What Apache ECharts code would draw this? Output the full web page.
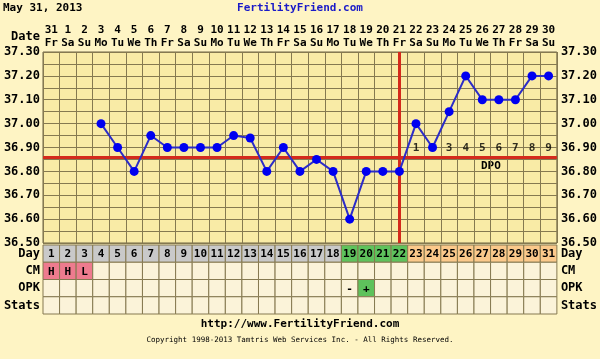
<!DOCTYPE html>
<html>
<head>
<meta charset="utf-8">
<script src="https://cdn.jsdelivr.net/npm/echarts@6/dist/echarts.min.js"></script>
<style>html,body{margin:0;padding:0;background:#fef4c4;}#c{width:600px;height:359px;}</style>
</head>
<body>
<div id="c"></div>
<script>
// ---- data ----
const dates = ['31','1','2','3','4','5','6','7','8','9','10','11','12','13','14','15','16','17','18','19','20','21','22','23','24','25','26','27','28','29','30'];
const weekdays = ['Fr','Sa','Su','Mo','Tu','We','Th','Fr','Sa','Su','Mo','Tu','We','Th','Fr','Sa','Su','Mo','Tu','We','Th','Fr','Sa','Su','Mo','Tu','We','Th','Fr','Sa','Su'];
const cycleDays = ['1','2','3','4','5','6','7','8','9','10','11','12','13','14','15','16','17','18','19','20','21','22','23','24','25','26','27','28','29','30','31'];
const temps = [null,null,null,37.00,36.90,36.80,36.95,36.90,36.90,36.90,36.90,36.95,36.94,36.80,36.90,36.80,36.85,36.80,36.60,36.80,36.80,36.80,37.00,36.90,37.05,37.20,37.10,37.10,37.10,37.20,37.20];
const cm = ['H','H','L','','','','','','','','','','','','','','','','','','','','','','','','','','','',''];
const opk = ['','','','','','','','','','','','','','','','','','','-','+','','','','','','','','','','',''];
const rows = ['Day','CM','OPK','Stats'];
const yTicks = ['36.50','36.60','36.70','36.80','36.90','37.00','37.10','37.20','37.30'];
const coverline = 36.86;
const ovulationDay = 22;
const dpo = ['1','2','3','4','5','6','7','8','9'];

// ---- styles ----
const FONT = 'DejaVu Sans Mono';
const gridC = '#857950';
const plotBg = '#f9eba6';
const cellBg = '#fbf3d9';
const red = '#d42a1c';

const fillFor = (r, i) => {
  const d = i + 1;
  if (r === 0) {
    if (d > ovulationDay) return '#fbc98b';
    if (d >= ovulationDay - 3) return '#5ec25c';
    return '#c9c9c9';
  }
  if (r === 1) return cm[i] ? '#ee7b8e' : cellBg;
  if (r === 2) return opk[i] === '+' ? '#5ec25c' : cellBg;
  return cellBg;
};
const textFor = (r, i) => r === 0 ? cycleDays[i] : r === 1 ? cm[i] : r === 2 ? opk[i] : '';

const cells = [];
for (let r = 0; r < rows.length; r++) {
  for (let i = 0; i < cycleDays.length; i++) {
    cells.push({value: [i, r], fill: fillFor(r, i), text: textFor(r, i)});
  }
}
const dpoData = dpo.map((t, k) => [ovulationDay + k, coverline]);

const chart = echarts.init(document.getElementById('c'), null, {renderer: 'canvas'});
const lab = {fontFamily: FONT, fontWeight: 'bold', fontSize: 11, color: '#000'};
const ylab = {fontFamily: FONT, fontWeight: 'bold', fontSize: 12, color: '#000'};

chart.setOption({
  backgroundColor: '#fef4c4',
  animation: false,
  grid: [
    {left: 43, top: 52, width: 514, height: 191, show: true, backgroundColor: plotBg, borderColor: '#6e6444', borderWidth: 1},
    {left: 43, top: 245, width: 514, height: 69}
  ],
  xAxis: [
    {gridIndex: 0, type: 'category', data: dates, position: 'top', boundaryGap: true,
     axisLine: {show: false}, axisTick: {show: false},
     axisLabel: Object.assign({}, lab, {interval: 0, lineHeight: 13, margin: 2,
       formatter: (v, i) => v + '\n' + weekdays[i]}),
     splitLine: {show: true, interval: 0, lineStyle: {color: gridC, width: 1}}},
    {gridIndex: 1, type: 'category', data: cycleDays, show: false}
  ],
  yAxis: [
    {gridIndex: 0, type: 'value', min: 36.5, max: 37.3, interval: 0.1,
     axisLine: {show: false}, axisTick: {show: false},
     axisLabel: Object.assign({}, ylab, {margin: 3, formatter: v => yTicks[Math.round((v - 36.5) * 10)] || ''}),
     splitLine: {show: true, lineStyle: {color: gridC, width: 1}},
     minorTick: {show: false, splitNumber: 2},
     minorSplitLine: {show: true, lineStyle: {color: gridC, width: 1}}},
    {gridIndex: 0, type: 'value', min: 36.5, max: 37.3, interval: 0.1, position: 'right',
     axisLine: {show: false}, axisTick: {show: false}, splitLine: {show: false},
     axisLabel: Object.assign({}, ylab, {margin: 4, formatter: v => yTicks[Math.round((v - 36.5) * 10)] || ''})},
    {gridIndex: 1, type: 'category', data: rows, inverse: true,
     axisLine: {show: false}, axisTick: {show: false}, splitLine: {show: false},
     axisLabel: Object.assign({}, ylab, {margin: 3})},
    {gridIndex: 1, type: 'category', data: rows, inverse: true, position: 'right',
     axisLine: {show: false}, axisTick: {show: false}, splitLine: {show: false},
     axisLabel: Object.assign({}, ylab, {margin: 4})}
  ],
  graphic: [
    {type: 'text', left: 3, top: 3, style: {text: 'May 31, 2013', font: 'bold 11px ' + FONT, fill: '#000'}},
    {type: 'text', left: 'center', top: 3, style: {text: 'FertilityFriend.com', font: 'bold 11px ' + FONT, fill: '#1a1ac8'}},
    {type: 'text', right: 560, top: 31, style: {text: 'Date', font: 'bold 12px ' + FONT, fill: '#000', align: 'right'}},
    {type: 'text', left: 481, top: 161, style: {text: 'DPO', font: 'bold 11px ' + FONT, fill: '#000'}},
    {type: 'text', left: 'center', top: 319, style: {text: 'http://www.FertilityFriend.com', font: 'bold 11px ' + FONT, fill: '#000'}},
    {type: 'text', left: 'center', top: 336, style: {text: 'Copyright 1998-2013 Tamtris Web Services Inc. - All Rights Reserved.', font: '7.5px ' + FONT, fill: '#000'}}
  ],
  series: [
    {type: 'line', xAxisIndex: 0, yAxisIndex: 0, data: [], z: 2, silent: true,
     markLine: {symbol: 'none', silent: true, label: {show: false},
       lineStyle: {color: red, width: 3, type: 'solid'},
       data: [{yAxis: coverline}, {xAxis: ovulationDay - 1}]}},
    {type: 'line', xAxisIndex: 0, yAxisIndex: 0, data: temps, z: 5,
     symbol: 'circle', symbolSize: 9, showAllSymbol: true,
     itemStyle: {color: '#0000f0'}, lineStyle: {color: '#2c2cc8', width: 2}},
    {type: 'scatter', xAxisIndex: 0, yAxisIndex: 0, data: dpoData, symbolSize: 1, z: 4,
     itemStyle: {color: 'rgba(0,0,0,0)'},
     label: {show: true, position: 'top', distance: 3, fontFamily: FONT, fontWeight: 'bold', fontSize: 11, color: '#000',
       formatter: p => dpo[p.dataIndex]}},
    {type: 'custom', xAxisIndex: 1, yAxisIndex: 2, data: cells.map(c => c.value),
     renderItem: (params, api) => {
       const c = api.coord([api.value(0), api.value(1)]);
       const s = api.size([1, 1]);
       const cell = cells[params.dataIndex];
       return {type: 'group', children: [
         {type: 'rect', shape: {x: c[0] - s[0] / 2, y: c[1] - s[1] / 2, width: s[0], height: s[1]},
          style: {fill: cell.fill, stroke: gridC, lineWidth: 1}},
         {type: 'text', style: {text: cell.text, x: c[0], y: c[1] + 1, align: 'center', verticalAlign: 'middle',
          font: 'bold 11px ' + FONT, fill: '#000'}}
       ]};
     }}
  ]
});
</script>
</body>
</html>
